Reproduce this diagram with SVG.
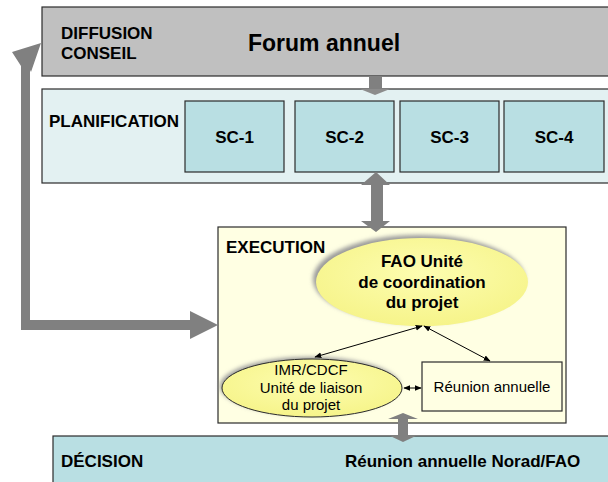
<svg xmlns="http://www.w3.org/2000/svg" width="608" height="482" viewBox="0 0 608 482">
<style>
.box{stroke:#2b2b2b;stroke-width:1.2}
.lbl{font-family:"Liberation Sans",Arial,sans-serif;font-weight:bold;font-size:17px;fill:#000}
.reg{font-family:"Liberation Sans",Arial,sans-serif;font-size:15px;fill:#000}
.big{font-family:"Liberation Sans",Arial,sans-serif;font-weight:bold;font-size:23px;fill:#000}
.fat{fill:#808080}
.thin{stroke:#000;stroke-width:1;fill:none;marker-start:url(#ah);marker-end:url(#ah)}
.sc{fill:#b9dfe3}
</style>
<defs>
<marker id="ah" viewBox="0 0 10 10" refX="9" refY="5" markerWidth="7" markerHeight="7" orient="auto-start-reverse" markerUnits="userSpaceOnUse">
<path d="M0,1 L10,5 L0,9 z" fill="#000"/>
</marker>
<radialGradient id="yel" cx="0.5" cy="0.4" r="0.6">
<stop offset="0" stop-color="#fdfdb0"/>
<stop offset="1" stop-color="#f6f48a"/>
</radialGradient>
<filter id="blur" x="-20%" y="-20%" width="140%" height="140%">
<feGaussianBlur stdDeviation="2"/>
</filter>
</defs>

<g id="diffusion">
<rect class="box" x="42" y="7" width="580" height="69" fill="#c0c0c0"/>
<text class="lbl" x="61" y="39">DIFFUSION</text>
<text class="lbl" x="61" y="59">CONSEIL</text>
<text class="big" x="248" y="51">Forum annuel</text>
</g>

<g id="planification">
<rect class="box" x="42" y="89" width="580" height="94" fill="#e3f1f2"/>
<text class="lbl" x="49" y="127">PLANIFICATION</text>
</g>
<g id="sc1"><rect class="box sc" x="185" y="101" width="99" height="71"/><text class="lbl" x="234.5" y="143" text-anchor="middle">SC-1</text></g>
<g id="sc2"><rect class="box sc" x="295" y="101" width="99" height="71"/><text class="lbl" x="344.5" y="143" text-anchor="middle">SC-2</text></g>
<g id="sc3"><rect class="box sc" x="400" y="101" width="99" height="71"/><text class="lbl" x="449.5" y="143" text-anchor="middle">SC-3</text></g>
<g id="sc4"><rect class="box sc" x="504" y="101" width="100" height="71"/><text class="lbl" x="554" y="143" text-anchor="middle">SC-4</text></g>

<g id="execution">
<rect class="box" x="218" y="227" width="348" height="196" fill="#ffffe3"/>
<text class="lbl" x="226" y="253">EXECUTION</text>
</g>

<g id="fao">
<ellipse cx="419" cy="279" rx="106" ry="44" fill="#9a9a9a" filter="url(#blur)"/>
<ellipse cx="422" cy="282" rx="106" ry="44" fill="url(#yel)"/>
<text class="lbl" x="422" y="267" text-anchor="middle">FAO Unité</text>
<text class="lbl" x="422" y="288" text-anchor="middle">de coordination</text>
<text class="lbl" x="422" y="308" text-anchor="middle">du projet</text>
</g>

<g id="imr">
<ellipse cx="310" cy="386" rx="90" ry="29" fill="#9a9a9a" filter="url(#blur)"/>
<ellipse cx="312" cy="388" rx="90" ry="29" fill="url(#yel)" stroke="#2b2b2b" stroke-width="1"/>
<text class="reg" x="311" y="375" text-anchor="middle">IMR/CDCF</text>
<text class="reg" x="311" y="393" text-anchor="middle">Unité de liaison</text>
<text class="reg" x="311" y="410" text-anchor="middle">du projet</text>
</g>

<g id="reunion">
<rect class="box" x="422" y="362" width="140" height="49" fill="#ffffe3"/>
<text class="reg" x="492" y="392" text-anchor="middle">Réunion annuelle</text>
</g>

<g id="decision">
<rect class="box" x="53" y="436" width="570" height="60" fill="#b9dfe3"/>
<text class="lbl" x="61" y="467">DÉCISION</text>
<text class="lbl" x="345" y="467">Réunion annuelle Norad/FAO</text>
</g>

<g id="connectors">
<!-- Forum -> Planification -->
<rect class="fat" x="369" y="76" width="13" height="13"/>
<polygon fill="#8c8c8c" points="360,89 390,89 375,95"/>
<!-- Planification <-> Execution -->
<polygon class="fat" points="376,172 390,185 383,185 383,221 390,221 376,232 361,221 371,221 371,185 361,185"/>
<!-- Execution <-> Decision -->
<polygon class="fat" points="403,413 418,419 408,419 408,435 418,435 403,442 388,435 398,435 398,419 388,419"/>
<!-- Feedback loop -->
<polygon class="fat" points="190,311 218,325 190,339 190,330 21,330 21,66 12,52 41,43 31,72 30,70 30,320 190,320"/>
<!-- Thin arrows -->
<line class="thin" x1="315" y1="357" x2="422" y2="326"/>
<line class="thin" x1="424" y1="326" x2="490" y2="361"/>
<line class="thin" x1="404" y1="388" x2="421" y2="388"/>
</g>
</svg>
